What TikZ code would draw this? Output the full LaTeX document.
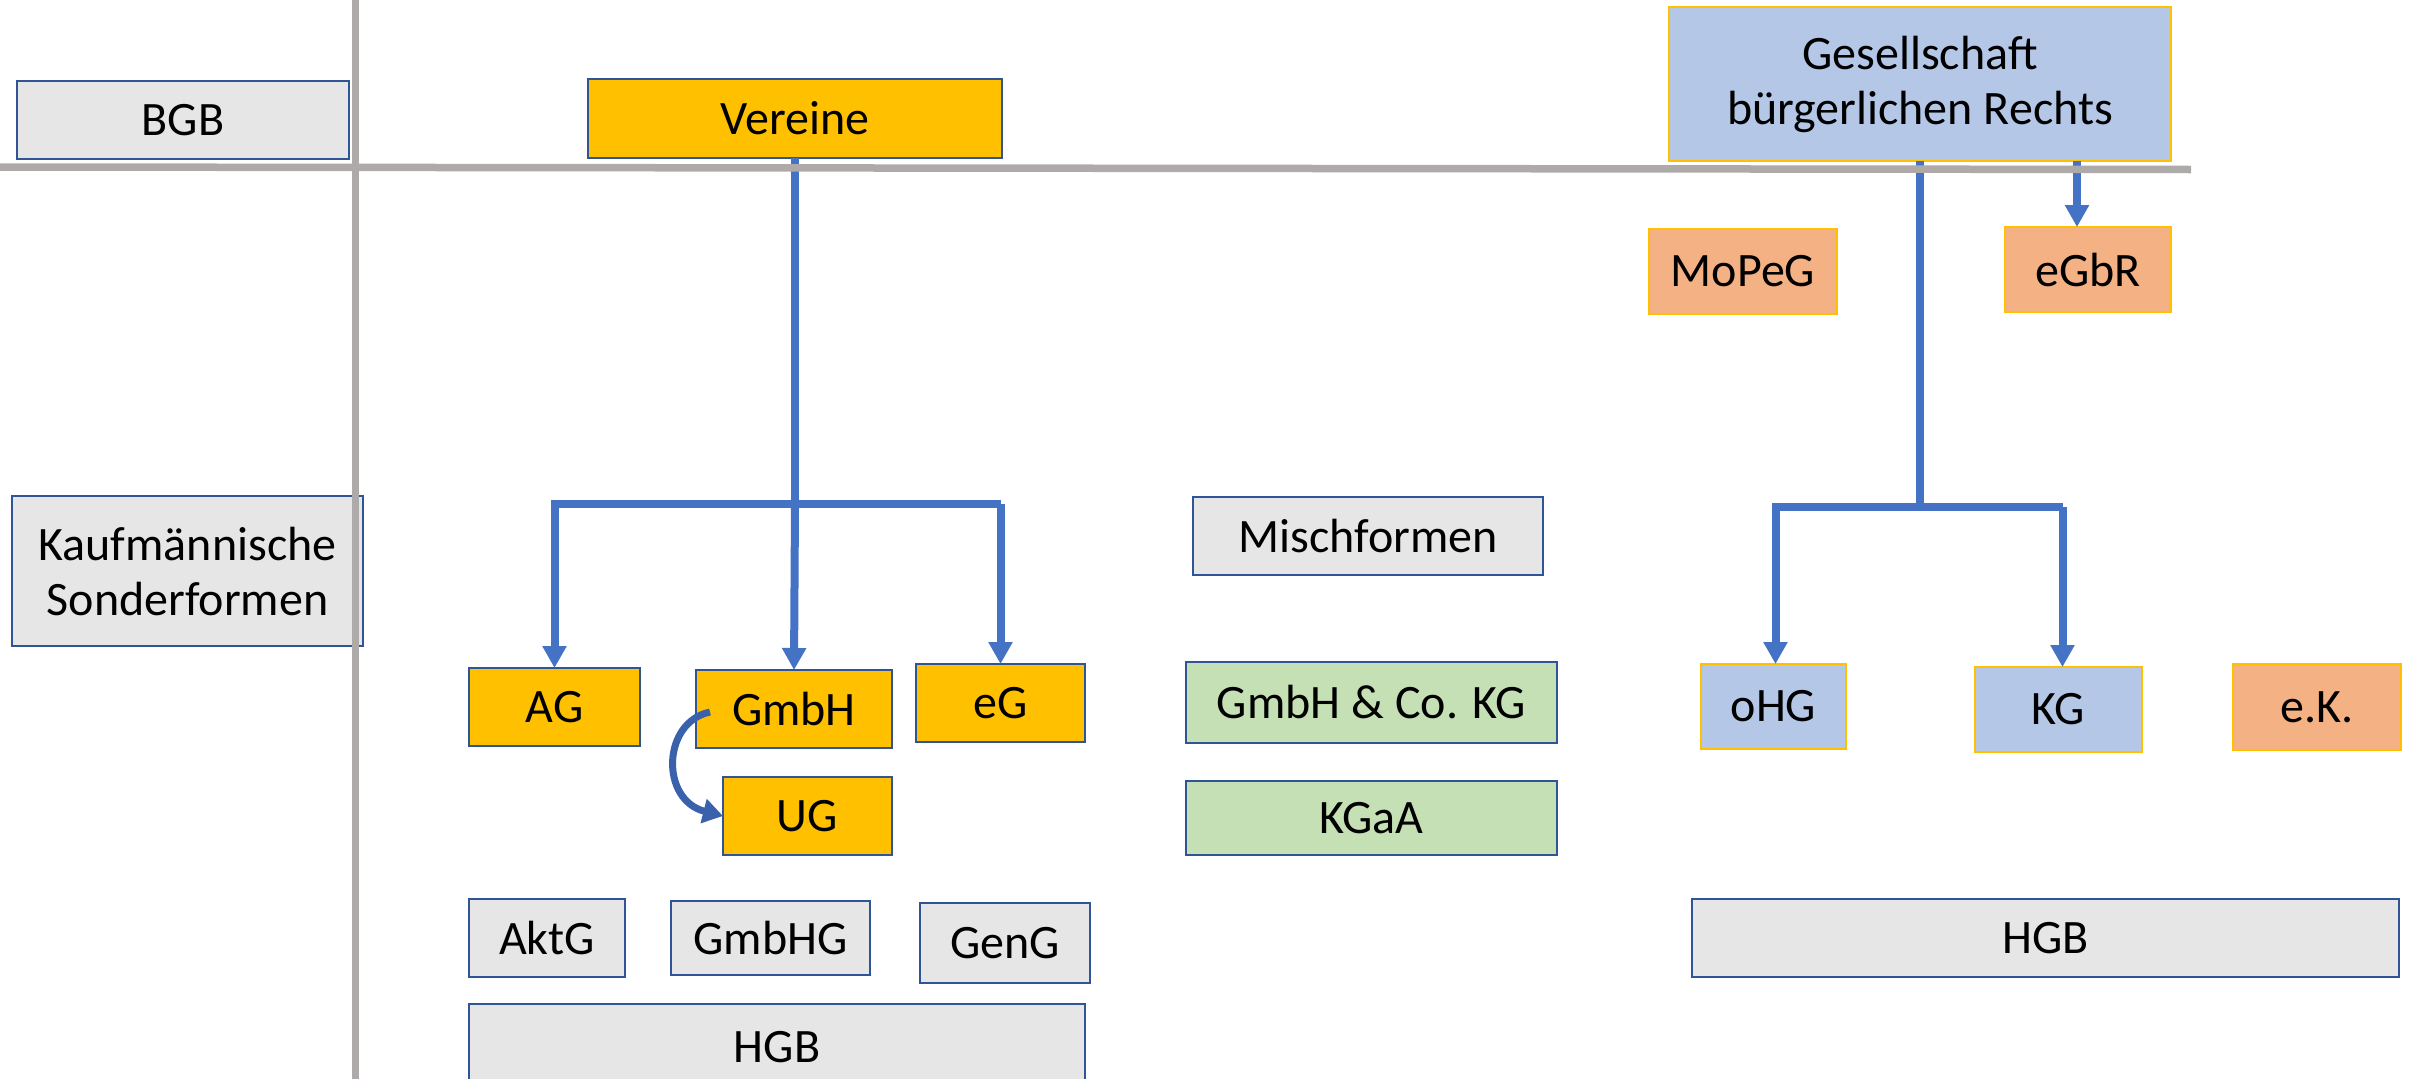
\documentclass[tikz,border=0pt]{standalone}
\usepackage{fontspec}
\setmainfont{Carlito}
\usetikzlibrary{arrows.meta}

\definecolor{boxgray}{HTML}{E7E6E6}
\definecolor{boxgold}{HTML}{FFC000}
\definecolor{boxgreen}{HTML}{C5E0B4}
\definecolor{boxblue}{HTML}{B4C7E7}
\definecolor{boxorange}{HTML}{F4B183}
\definecolor{edgeblue}{HTML}{2F5597}
\definecolor{linkblue}{HTML}{4472C4}
\definecolor{curveblue}{HTML}{3A62AC}
\definecolor{rulegray}{HTML}{AEAAAA}

\tikzset{
  lbl/.style={inner sep=0pt, outer sep=0pt, align=center,
    font=\fontsize{48pt}{55pt}\selectfont, text=black},
  graybox/.style={lbl, fill=boxgray, draw=edgeblue, line width=2.5pt},
  goldbox/.style={lbl, fill=boxgold, draw=edgeblue, line width=2.5pt},
  greenbox/.style={lbl, fill=boxgreen, draw=edgeblue, line width=2.5pt},
  bluebox/.style={lbl, fill=boxblue, draw=boxgold, line width=2pt},
  orangebox/.style={lbl, fill=boxorange, draw=boxgold, line width=2pt},
  wh/.style 2 args={minimum width=#1pt, minimum height=#2pt},
  link/.style={draw=linkblue, line width=8pt, line join=miter},
  linkarr/.style={link, -{Triangle[width=23pt,length=22pt]}},
  rule/.style={draw=rulegray, line width=7.5pt},
}

\begin{document}
\begin{tikzpicture}[x=1pt, y=1pt]
\useasboundingbox (0,0) rectangle (2410,-1079);
\clip (0,0) rectangle (2410,-1079);

% left column: legal bases
\node[graybox, wh={332}{78}]  (bgb)  at (183,-120)   {BGB};
\node[graybox, wh={351}{150}] (kauf) at (187.5,-571) {Kaufmännische\\Sonderformen};

% associations and corporations
\node[goldbox, wh={414}{79}] (vereine) at (795,-118.5) {Vereine};
\node[goldbox, wh={171}{78}] (ag)   at (554.5,-707) {AG};
\node[goldbox, wh={196}{78}] (gmbh) at (794,-709)   {GmbH};
\node[goldbox, wh={169}{78}] (eg)   at (1000.5,-703) {eG};
\node[goldbox, wh={169}{78}] (ug)   at (807.5,-816) {UG};

\node[graybox, wh={156}{78}] (aktg)  at (547,-938)   {AktG};
\node[graybox, wh={199}{74}] (gmbhg) at (770.5,-938) {GmbHG};
\node[graybox, wh={170}{80}] (geng)  at (1005,-943)  {GenG};
\node[graybox, wh={616}{86}] (hgbl)  at (777,-1047)  {HGB};

% mixed forms
\node[graybox, wh={350}{78}]  (misch)  at (1368,-536)   {Mischformen};
\node[greenbox, wh={371}{81}] (gmbhco) at (1371.5,-702.5) {GmbH \& Co. KG};
\node[greenbox, wh={371}{74}] (kgaa)   at (1371.5,-818) {KGaA};

% partnerships
\node[bluebox, wh={502}{154}] (gbr) at (1920,-84) {Gesellschaft\\bürgerlichen Rechts};
\node[orangebox, wh={188}{85}] (mopeg) at (1743,-271.5) {MoPeG};
\node[orangebox, wh={166}{85}] (egbr)  at (2088,-269.5) {eGbR};
\node[bluebox, wh={145}{85}]   (ohg)   at (1773.5,-706.5) {oHG};
\node[bluebox, wh={167}{85}]   (kg)    at (2058.5,-709.5) {KG};
\node[orangebox, wh={168}{86}] (ek)    at (2317,-707) {e.K.};
\node[graybox, wh={707}{78}]   (hgbr)  at (2045.5,-938) {HGB};

% branch levels
\coordinate (lbar) at (0,-504);
\coordinate (rbar) at (0,-507);

% tree below the associations
\draw[link] (vereine.south) -- (vereine.south |- lbar);
\draw[linkarr] (eg.north |- lbar) -- (ag.north |- lbar) -- (ag.north);
\draw[linkarr] (vereine.south |- lbar) -- (gmbh.north);
\draw[linkarr] (eg.north |- lbar) -- (eg.north);

% GmbH to UG
\draw[draw=curveblue, line width=7pt, -{Triangle[width=24pt,length=20pt]}]
  ([xshift=14pt,yshift=-3pt]gmbh.west) .. controls (662,-722) and (660,-800) .. (ug.west);

% tree below the partnership
\draw[link] (gbr.south) -- (gbr.south |- rbar);
\draw[linkarr] ([xshift=4pt]kg.north |- rbar) -- ([xshift=2pt]ohg.north |- rbar) -- ([xshift=2pt]ohg.north);
\draw[linkarr] ([xshift=4pt]kg.north |- rbar) -- ([xshift=4pt]kg.north);
\draw[linkarr] ([xshift=-11pt]egbr.north |- gbr.south) -- ([xshift=-11pt]egbr.north);

% dividing rules
\coordinate (hruleL) at (0,-167);
\coordinate (hruleR) at (2191,-169.5);
\coordinate (vruleT) at (355.5,0);
\coordinate (vruleB) at (355.5,-1079);
\draw[rule] (hruleL) -- (hruleR);
\draw[rule] (vruleT) -- (vruleB);
\end{tikzpicture}
\end{document}
